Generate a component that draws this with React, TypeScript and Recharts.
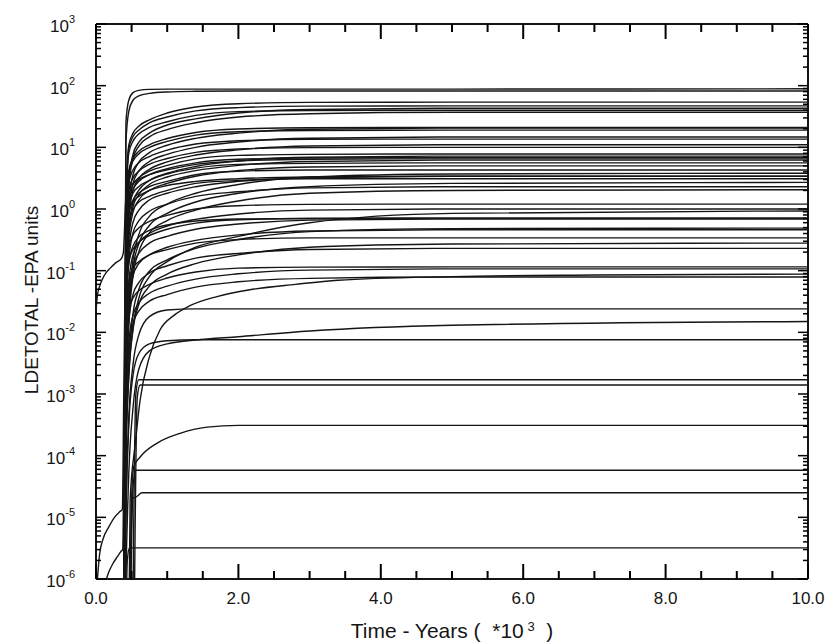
import { Line, LineChart, ReferenceLine, XAxis, YAxis } from "recharts"

const FONT = "'Liberation Sans', Arial, Helvetica, sans-serif"
const INK = "#151515"

// plot box in page pixels
const CHART_W = 827
const CHART_H = 643
const PLOT_LEFT = 96
const PLOT_TOP = 24
const PLOT_W = 712
const PLOT_H = 555

const X_LABELED = [0, 2, 4, 6, 8, 10]
const X_TICKS = [0, 0.5, 1, 1.5, 2, 2.5, 3, 3.5, 4, 4.5, 5, 5.5, 6, 6.5, 7, 7.5, 8, 8.5, 9, 9.5, 10]
const Y_DECADES = [-6, -5, -4, -3, -2, -1, 0, 1, 2, 3]
const Y_MINOR_STEPS = [2, 3, 4, 5, 6, 7, 8, 9]

// shared time grid (thousands of years) for the curves that start at the release
const RISE_T = [0.38, 0.42, 0.46, 0.52, 0.6, 0.75, 1.0, 1.4, 2.0, 3.0, 5.0, 10]

const UPPER_CURVES = [
  [1e-9, 25, 58, 77, 84, 87, 88, 88, 88, 88, 88, 89],
  [1e-9, 12, 38, 58, 68, 75, 79, 81, 82, 82, 82, 82],
  [1e-9, 1.1, 10.8, 17, 22, 28, 36, 45, 51, 53.5, 54, 54],
  [1e-9, 0.94, 9.4, 15, 19, 25, 31, 39, 44, 46.5, 47, 47],
  [1e-9, 0.21, 2.7, 7.7, 12, 17, 23, 29, 36, 41, 43, 43],
  [1e-9, 0.8, 8, 12.6, 16.4, 21, 26, 33, 38, 39.6, 40, 40],
  [1e-9, 0.19, 2.3, 6.6, 10.4, 14.8, 19.4, 25, 31, 35, 37, 37],
  [1e-9, 0.42, 4.2, 6.6, 8.6, 11, 13.9, 17.4, 19.8, 20.8, 21, 21],
  [1e-9, 0.1, 1.3, 3.6, 5.7, 8.2, 10.8, 14, 17, 19.6, 20.5, 20.5],
  [1e-9, 0.38, 3.8, 6, 7.8, 10, 12.5, 15.8, 17.9, 18.8, 19, 19],
  [1e-9, 0.074, 0.93, 2.6, 4.1, 5.9, 7.7, 10, 12.2, 14, 14.7, 14.7],
  [1e-9, 0.27, 2.7, 4.3, 5.6, 7.1, 9, 11.3, 12.8, 13.5, 13.6, 13.6],
  [1e-9, 0.055, 0.69, 2, 3.1, 4.4, 5.8, 7.5, 9.1, 10.5, 11, 11],
  [1e-9, 0.2, 2, 3.2, 4.1, 5.3, 6.6, 8.3, 9.4, 9.9, 10, 10],
]

const MIDDLE_CURVES = [
  [1e-9, 0.16, 1.6, 2.5, 3.2, 4.1, 5.1, 6.5, 7.4, 7.7, 7.8, 7.8],
  [1e-9, 0.036, 0.45, 1.3, 2, 2.9, 3.8, 4.9, 6, 6.9, 7.2, 7.2],
  [1e-9, 0.14, 1.4, 2.1, 2.8, 3.6, 4.5, 5.6, 6.4, 6.7, 6.8, 6.8],
  [1e-9, 0.031, 0.39, 1.1, 1.7, 2.5, 3.3, 4.2, 5.1, 5.9, 6.2, 6.2],
  [1e-9, 0.11, 1.1, 1.8, 2.3, 2.9, 3.7, 4.6, 5.3, 5.5, 5.6, 5.6],
  [1e-9, 0.025, 0.32, 0.89, 1.4, 2, 2.6, 3.4, 4.2, 4.8, 5, 5],
  [1e-9, 0.086, 0.86, 1.4, 1.8, 2.3, 2.8, 3.6, 4.1, 4.3, 4.3, 4.3],
  [1e-9, 1.2e-3, 0.024, 0.15, 0.38, 0.76, 1.2, 1.8, 2.5, 3.3, 3.7, 3.8],
  [1e-9, 0.017, 0.21, 0.61, 0.95, 1.4, 1.8, 2.3, 2.8, 3.2, 3.4, 3.4],
  [1e-9, 0.062, 0.62, 0.98, 1.3, 1.6, 2, 2.6, 2.9, 3.1, 3.1, 3.1],
  [1e-9, 8.6e-4, 0.017, 0.11, 0.27, 0.54, 0.85, 1.3, 1.8, 2.3, 2.6, 2.7],
  [1e-9, 0.012, 0.14, 0.41, 0.64, 0.92, 1.2, 1.6, 1.9, 2.2, 2.3, 2.3],
  [1e-9, 6.6e-4, 0.013, 0.082, 0.2, 0.41, 0.65, 0.96, 1.35, 1.8, 2, 2.05],
  [1e-9, 0.024, 0.24, 0.38, 0.49, 0.63, 0.79, 1.0, 1.13, 1.19, 1.2, 1.2],
  [1e-9, 0.005, 0.063, 0.18, 0.28, 0.4, 0.53, 0.68, 0.83, 0.96, 1.0, 1.0],
]

const LOWER_CURVES = [
  [1e-9, 1e-4, 2e-3, 0.012, 0.035, 0.08, 0.14, 0.24, 0.36, 0.6, 0.85, 0.93],
  [1e-9, 0.014, 0.14, 0.22, 0.29, 0.37, 0.47, 0.59, 0.67, 0.7, 0.71, 0.71],
  [1e-9, 3.5e-3, 0.043, 0.12, 0.19, 0.28, 0.36, 0.47, 0.57, 0.66, 0.69, 0.69],
  [1e-9, 1.6e-4, 3.1e-3, 0.02, 0.049, 0.098, 0.15, 0.23, 0.32, 0.43, 0.48, 0.49],
  [1e-9, 2.3e-3, 0.029, 0.082, 0.13, 0.18, 0.24, 0.31, 0.38, 0.44, 0.46, 0.46],
  [1e-9, 6.8e-3, 0.068, 0.11, 0.14, 0.18, 0.22, 0.28, 0.32, 0.34, 0.34, 0.34],
  [1e-9, 9e-5, 1.8e-3, 0.011, 0.028, 0.056, 0.088, 0.13, 0.18, 0.24, 0.27, 0.28],
  [1e-9, 1.2e-3, 0.014, 0.041, 0.064, 0.092, 0.12, 0.16, 0.19, 0.22, 0.23, 0.23],
  [1e-9, 2.3e-3, 0.023, 0.036, 0.047, 0.06, 0.076, 0.095, 0.11, 0.114, 0.115, 0.115],
  [1e-9, 5.4e-4, 6.7e-3, 0.019, 0.03, 0.043, 0.056, 0.073, 0.089, 0.102, 0.107, 0.107],
  [1e-9, 4e-4, 5e-3, 0.014, 0.022, 0.032, 0.041, 0.054, 0.066, 0.075, 0.079, 0.079],
  [1e-9, 1e-5, 4e-4, 3e-3, 9e-3, 0.018, 0.023, 0.024, 0.024, 0.024, 0.024, 0.024],
  [1e-9, 1e-6, 5e-5, 6e-4, 2.5e-3, 5e-3, 6.5e-3, 7.5e-3, 8.5e-3, 0.0105, 0.013, 0.015],
  [1e-9, 1e-5, 3e-4, 2e-3, 4.5e-3, 6.5e-3, 7.3e-3, 7.6e-3, 7.6e-3, 7.6e-3, 7.6e-3, 7.6e-3],
]

// curves with their own time points
const CROSS_T = [0.44, 0.48, 0.55, 0.62, 0.75, 0.9, 1.1, 1.32, 1.7, 2.16, 2.8, 3.4, 5, 7, 10]
const CROSS_V = [1e-9, 2e-5, 1.5e-4, 8e-4, 4e-3, 0.011, 0.019, 0.027, 0.038, 0.049, 0.06, 0.07, 0.08, 0.085, 0.088]

const STEP_A_T = [0.5, 0.56, 0.6, 10]
const STEP_A_V = [1e-9, 1e-3, 1.7e-3, 1.7e-3]
const STEP_B_T = [0.52, 0.58, 0.62, 10]
const STEP_B_V = [1e-9, 9e-4, 1.4e-3, 1.4e-3]

const SLOW_E4_T = [0.45, 0.5, 0.53, 0.62, 0.86, 1.18, 1.56, 2.0, 10]
const SLOW_E4_V = [1e-9, 2e-5, 6.6e-5, 9.5e-5, 1.6e-4, 2.3e-4, 2.9e-4, 3.1e-4, 3.1e-4]

const FLAT_E5A_T = [0.46, 0.52, 0.56, 10]
const FLAT_E5A_V = [1e-9, 3e-5, 5.8e-5, 5.8e-5]
const FLAT_E5B_T = [0.46, 0.5, 0.55, 0.6, 0.64, 10]
const FLAT_E5B_V = [1e-9, 2e-5, 2.1e-5, 2.3e-5, 2.5e-5, 2.5e-5]
const FLAT_E6_T = [0.4, 0.44, 0.47, 10]
const FLAT_E6_V = [1e-9, 2e-6, 3.2e-6, 3.2e-6]

const EARLY_HIGH_T = [0, 0.02, 0.06, 0.12, 0.2, 0.28, 0.36, 0.385, 0.42, 0.46, 0.52, 0.6, 0.75, 1.0, 1.4, 2.0, 3.0, 5.0, 10]
const EARLY_HIGH_V = [0.022, 0.04, 0.06, 0.085, 0.11, 0.135, 0.16, 0.2, 1.5, 2.2, 2.6, 3, 3.6, 4.3, 5.3, 6, 6.4, 6.5, 6.5]

const EARLY_LOW_A_T = [0.02, 0.05, 0.1, 0.18, 0.26, 0.34, 0.37, 0.39, 0.42, 0.46, 0.52, 0.6, 0.75, 1.0, 1.4, 2.0, 3.0, 5.0, 10]
const EARLY_LOW_A_V = [1e-6, 2.5e-6, 4.5e-6, 7e-6, 1e-5, 1.25e-5, 1.35e-5, 1e-3, 0.3, 0.9, 1.3, 1.6, 2, 2.4, 2.8, 3.1, 3.3, 3.4, 3.4]

const EARLY_LOW_B_T = [0.12, 0.18, 0.24, 0.3, 0.35, 0.375, 0.4, 0.43, 0.47, 0.52, 0.6, 0.75, 1.0, 1.4, 2.0, 3.0, 5.0, 10]
const EARLY_LOW_B_V = [8e-7, 1.3e-6, 1.8e-6, 2.3e-6, 2.8e-6, 3e-6, 1e-3, 0.05, 0.15, 0.25, 0.35, 0.45, 0.55, 0.64, 0.69, 0.7, 0.71, 0.71]

const toPoints = (ts: number[], vs: number[]) => ts.map((t, i) => ({ t, v: vs[i] }))

const SERIES = [
  ...[...UPPER_CURVES, ...MIDDLE_CURVES, ...LOWER_CURVES].map((vs) => toPoints(RISE_T, vs)),
  toPoints(CROSS_T, CROSS_V),
  toPoints(STEP_A_T, STEP_A_V),
  toPoints(STEP_B_T, STEP_B_V),
  toPoints(SLOW_E4_T, SLOW_E4_V),
  toPoints(FLAT_E5A_T, FLAT_E5A_V),
  toPoints(FLAT_E5B_T, FLAT_E5B_V),
  toPoints(FLAT_E6_T, FLAT_E6_V),
  toPoints(EARLY_HIGH_T, EARLY_HIGH_V),
  toPoints(EARLY_LOW_A_T, EARLY_LOW_A_V),
  toPoints(EARLY_LOW_B_T, EARLY_LOW_B_V),
]

const Y_TICKS = Y_DECADES.flatMap((d) =>
  d < 3 ? [Math.pow(10, d), ...Y_MINOR_STEPS.map((m) => m * Math.pow(10, d))] : [Math.pow(10, d)]
)

const isDecade = (v: number) => {
  const lg = Math.log10(v)
  return Math.abs(lg - Math.round(lg)) < 1e-6
}

// x, y arrive at the axis line (tickSize and tickMargin are 0); marks point inward
function XTick(props: any) {
  const { x, y, payload } = props
  const v = payload.value as number
  const major = X_LABELED.includes(v)
  const len = major ? 15 : 8
  return (
    <g>
      <path d={`M${x},${y}v${-len}M${x},${y - PLOT_H}v${len}`} stroke="black" strokeWidth={2} fill="none" />
      {major && (
        <text x={x} y={y + 25} textAnchor="middle" fontSize={17} fontFamily={FONT} fill={INK}>
          {v.toFixed(1)}
        </text>
      )}
    </g>
  )
}

function YTick(props: any) {
  const { x, y, payload } = props
  const v = payload.value as number
  const major = isDecade(v)
  const len = major ? 10 : 5
  return (
    <g>
      <line x1={x} x2={x + len} y1={y} y2={y} stroke="black" strokeWidth={1.5} />
      <line x1={x + PLOT_W} x2={x + PLOT_W - len} y1={y} y2={y} stroke="black" strokeWidth={1.5} />
      {major && (
        <text x={x - 21} y={y + 8} textAnchor="end" fontSize={17} fontFamily={FONT} fill={INK}>
          10
          <tspan dy={-9} fontSize={11}>
            {Math.round(Math.log10(v))}
          </tspan>
        </text>
      )}
    </g>
  )
}

export default function App() {
  return (
    <div style={{ position: "absolute", left: 0, top: 0, width: CHART_W, height: CHART_H, background: "#fff" }}>
      <LineChart
        width={CHART_W}
        height={CHART_H}
        margin={{ top: PLOT_TOP, right: CHART_W - PLOT_LEFT - PLOT_W, bottom: 0, left: PLOT_LEFT - 60 }}
      >
        <XAxis
          type="number"
          dataKey="t"
          domain={[0, 10]}
          ticks={X_TICKS}
          interval={0}
          allowDataOverflow
          height={CHART_H - PLOT_TOP - PLOT_H}
          tickSize={0}
          tickMargin={0}
          tickLine={false}
          tick={XTick}
          axisLine={{ stroke: INK, strokeWidth: 2 }}
        />
        <YAxis
          type="number"
          scale="log"
          domain={[1e-6, 1000]}
          ticks={Y_TICKS}
          interval={0}
          allowDataOverflow
          width={60}
          tickSize={0}
          tickMargin={0}
          tickLine={false}
          tick={YTick}
          axisLine={{ stroke: INK, strokeWidth: 2 }}
        />
        <ReferenceLine y={1000} stroke={INK} strokeWidth={2} />
        <ReferenceLine x={10} stroke={INK} strokeWidth={2} />
        {SERIES.map((pts, i) => (
          <Line
            key={i}
            data={pts}
            dataKey="v"
            type="monotone"
            stroke={INK}
            strokeWidth={1.4}
            dot={false}
            activeDot={false}
            isAnimationActive={false}
          />
        ))}
      </LineChart>
      <div
        style={{
          position: "absolute",
          left: 252,
          top: 620,
          width: 400,
          textAlign: "center",
          font: `21px ${FONT}`,
          lineHeight: "21px",
          color: INK,
          whiteSpace: "pre",
        }}
      >
        {"Time - Years (  *10"}
        <sup style={{ fontSize: 13, verticalAlign: "7px", lineHeight: 0 }}>{" 3"}</sup>
        {"  )"}
      </div>
      <div
        style={{
          position: "absolute",
          left: 32 - 150,
          top: 300 - 10,
          width: 300,
          height: 20,
          textAlign: "center",
          font: `19px ${FONT}`,
          lineHeight: "20px",
          color: INK,
          transform: "rotate(-90deg)",
          whiteSpace: "pre",
        }}
      >
        LDETOTAL -EPA units
      </div>
    </div>
  )
}
